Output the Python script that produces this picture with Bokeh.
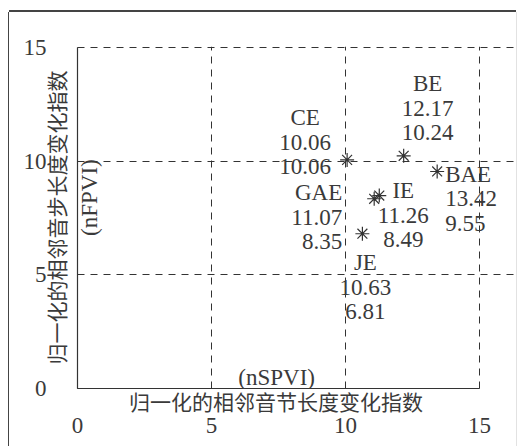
from math import pi
from bokeh.plotting import figure
from bokeh.models import Range1d, FixedTicker, Label
from bokeh.embed import file_html
from bokeh.resources import INLINE

# ---- data ----
names = ["CE", "BE", "BAE", "GAE", "IE", "JE"]
nspvi = [10.06, 12.17, 13.42, 11.07, 11.26, 10.63]
nfpvi = [10.06, 10.24, 9.55, 8.35, 8.49, 6.81]
x_ticks = [0, 5, 10, 15]
y_ticks = [0, 5, 10, 15]
grid_ticks = [5, 10, 15]
axis_bounds = (0, 15)
x_title = "归一化的相邻音节长度变化指数"
y_title = "归一化的相邻音步长度变化指数"
x_abbr = "(nSPVI)"
y_abbr = "(nFPVI)"

# ---- label layout (screen pixels, relative to each point) ----
label_align = ["center", "center", "left", "right", "center", "center"]
label_dx = [-42, 24, 8, -32, 24, 3]
label_dy = [-42, -72, 3, -6, -5, 29]   # centre of first text line, + is down
LINE_STEP = 24.5
TITLE_PAD = "\u3000\u3000"   # keeps the x title centred over the 0-15 span

TEXT = "#3a3a3a"
LINE = "#333333"
SERIF = "Liberation Serif"
CJK = "Noto Sans CJK SC"
FS = "23px"
FS_CJK = "21px"

# frame extends right of x=15 so that labels near the edge are not clipped
p = figure(width=507, height=434, x_range=Range1d(0, 16.38), y_range=Range1d(0, 15.05),
           output_backend="svg", toolbar_location=None,
           min_border_left=68, min_border_right=0, min_border_top=34, min_border_bottom=58)
p.outline_line_color = None
p.background_fill_color = "white"
p.border_fill_color = "white"
p.styles = {"margin": "12px 0 0 9px",
            "box-shadow": "-1px 0 0 #444, 0 -2px 0 #444, 1px 0 0 #e2e2e2"}

for g in (p.xgrid, p.ygrid):
    g.ticker = FixedTicker(ticks=grid_ticks)
    g.grid_line_color = LINE
    g.grid_line_dash = "7 6"
    g.grid_line_width = 1
p.ygrid.bounds = axis_bounds

for ax in (p.xaxis, p.yaxis):
    ax.axis_line_color = LINE
    ax.axis_line_width = 1.2
    ax.major_tick_in = 4
    ax.major_tick_out = 0
    ax.major_tick_line_color = LINE
    ax.minor_tick_line_color = None
    ax.major_label_text_font = SERIF
    ax.major_label_text_font_size = FS
    ax.major_label_text_color = TEXT
    ax.axis_label_text_font = CJK
    ax.axis_label_text_font_size = FS_CJK
    ax.axis_label_text_font_style = "normal"
    ax.axis_label_text_color = TEXT
    ax.bounds = axis_bounds

p.xaxis.ticker = FixedTicker(ticks=x_ticks)
p.yaxis.ticker = FixedTicker(ticks=y_ticks)
p.xaxis.axis_label = x_title + TITLE_PAD
p.yaxis.axis_label = y_title
p.xaxis.major_label_standoff = 29
p.xaxis.axis_label_standoff = -50
p.yaxis.major_label_standoff = 31
p.yaxis.axis_label_standoff = -50
p.yaxis.major_label_orientation = "horizontal"

# points
p.scatter(nspvi, nfpvi, marker="asterisk", size=14, line_color=LINE, line_width=1.2)

# labels: name / nSPVI / nFPVI, one text line each
for n, x, y, a, dx, dy in zip(names, nspvi, nfpvi, label_align, label_dx, label_dy):
    for k, line in enumerate([n, f"{x:.2f}", f"{y:.2f}"]):
        p.add_layout(Label(x=x, y=y, text=line, text_align=a, text_baseline="middle",
                           x_offset=dx, y_offset=-(dy + k * LINE_STEP),
                           text_font=SERIF, text_font_size=FS, text_color=TEXT))

p.add_layout(Label(x=7.43, y=0.48, text=x_abbr, text_align="center", text_baseline="middle",
                   text_font=SERIF, text_font_size=FS, text_color=TEXT))
p.add_layout(Label(x=0.45, y=8.4, text=y_abbr, angle=pi / 2, text_align="center",
                   text_baseline="middle", text_font=SERIF, text_font_size=FS, text_color=TEXT))

open("out.html", "w").write(file_html(p, INLINE))
